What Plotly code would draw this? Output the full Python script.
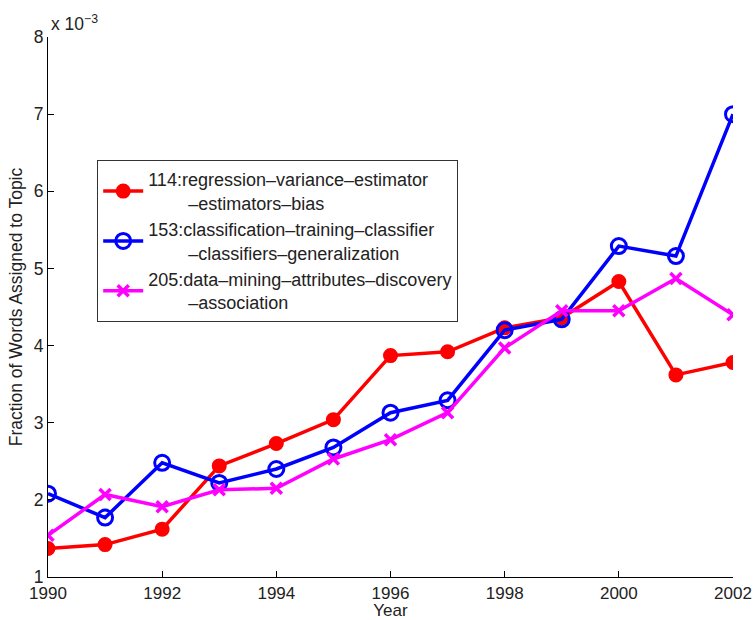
import plotly.graph_objects as go

# Topic trends: fraction of words assigned to each topic, in units of 1e-3
years = list(range(1990, 2003))

topic_114 = [1.37, 1.42, 1.62, 2.44, 2.73, 3.04, 3.87, 3.92, 4.23, 4.36, 4.83, 3.62, 3.78]
topic_153 = [2.08, 1.77, 2.48, 2.22, 2.40, 2.68, 3.13, 3.29, 4.20, 4.34, 5.29, 5.16, 7.00]
topic_205 = [1.54, 2.07, 1.91, 2.13, 2.15, 2.53, 2.78, 3.13, 3.97, 4.45, 4.45, 4.87, 4.40]

indent = "\u00a0" * 8
name_114 = "114:regression–variance–estimator<br>" + indent + "–estimators–bias"
name_153 = "153:classification–training–classifier<br>" + indent + "–classifiers–generalization"
name_205 = "205:data–mining–attributes–discovery<br>" + indent + "–association"

x_ticks = [1990, 1992, 1994, 1996, 1998, 2000, 2002]
y_ticks = [1, 2, 3, 4, 5, 6, 7, 8]

FONT = "Liberation Sans, Arial, Helvetica, sans-serif"
TXT = "#222"

fig = go.Figure()
fig.add_trace(go.Scatter(
    x=years, y=topic_114, name=name_114, mode="lines+markers",
    line=dict(color="#ff0000", width=3.5),
    marker=dict(symbol="circle", size=13, color="#ff0000",
                line=dict(color="#ff0000", width=2)),
))
fig.add_trace(go.Scatter(
    x=years, y=topic_153, name=name_153, mode="lines+markers",
    line=dict(color="#0000ff", width=3.5),
    marker=dict(symbol="circle-open", size=15, color="#0000ff",
                line=dict(color="#0000ff", width=3)),
))
fig.add_trace(go.Scatter(
    x=years, y=topic_205, name=name_205, mode="lines+markers",
    line=dict(color="#ff00ff", width=3.5),
    marker=dict(symbol="x-thin", size=11, color="#ff00ff",
                line=dict(color="#ff00ff", width=3.5)),
))

axis_common = dict(
    showline=True, linecolor="black", linewidth=1.2,
    ticks="inside", ticklen=6, tickcolor="black", tickwidth=1.2,
    showgrid=False, zeroline=False, mirror=False, automargin=False,
)

top, bottom, left, right = 37, 577, 48, 733
legend_top = 160

fig.update_layout(
    width=755, height=620,
    margin=dict(l=left, r=755 - right, t=top, b=620 - bottom),
    paper_bgcolor="white", plot_bgcolor="white",
    font=dict(family=FONT, size=17.5, color=TXT),
    xaxis=dict(range=[1990, 2002], tickvals=x_ticks,
               tickfont=dict(family=FONT, size=17, color=TXT),
               title=dict(text="Year", standoff=3,
                          font=dict(family=FONT, size=17, color=TXT)),
               **axis_common),
    yaxis=dict(range=[1, 8], tickvals=y_ticks,
               tickfont=dict(family=FONT, size=17.5, color=TXT),
               title=dict(text="Fraction of Words Assigned to Topic",
                          standoff=6,
                          font=dict(family=FONT, size=17.5, color=TXT)),
               **axis_common),
    legend=dict(
        x=(97 - left) / (right - left), y=(bottom - legend_top) / (bottom - top),
        xanchor="left", yanchor="top",
        bgcolor="white", bordercolor="#333", borderwidth=1.2,
        font=dict(family=FONT, size=18, color=TXT),
        tracegroupgap=0, itemwidth=40,
    ),
    showlegend=True,
)

fig.add_annotation(
    text="x 10<sup>−3</sup>", xref="paper", yref="paper",
    x=0.0, y=1.0, xanchor="left", yanchor="bottom", yshift=1, xshift=1,
    showarrow=False, font=dict(family=FONT, size=17.5, color=TXT),
)

fig.write_html("out.html")
